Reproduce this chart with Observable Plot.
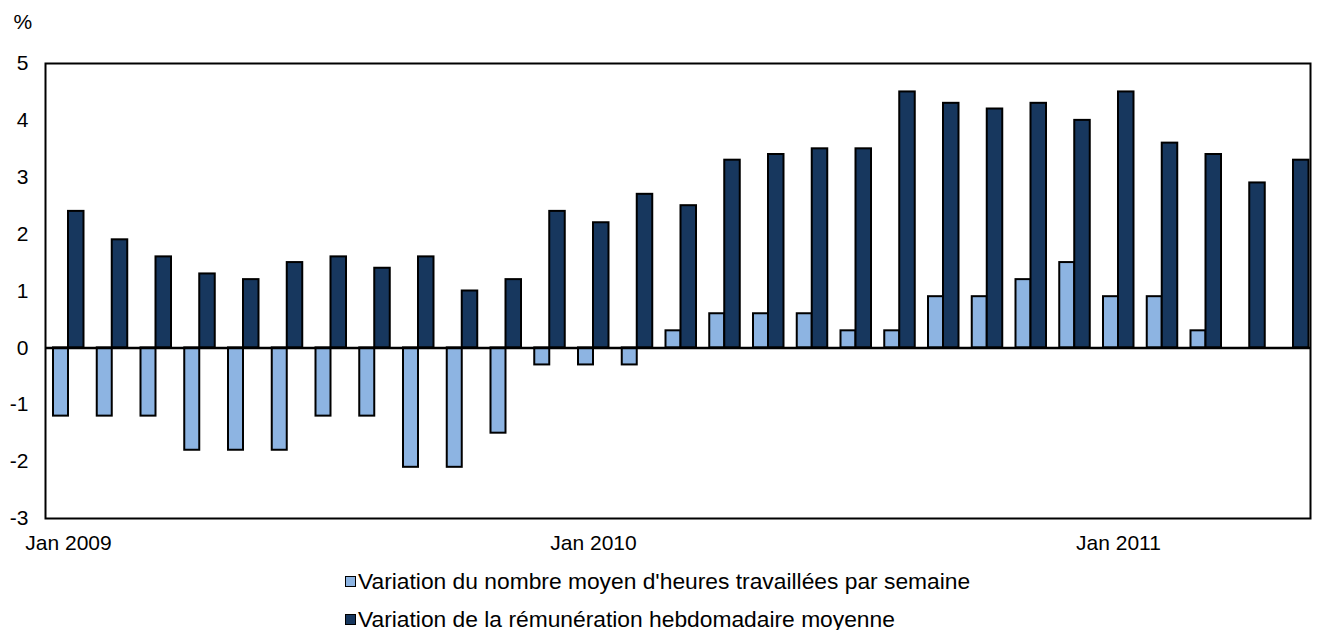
<!DOCTYPE html>
<html>
<head>
<meta charset="utf-8">
<script src="https://cdn.jsdelivr.net/npm/d3@7"></script>
<script src="https://cdn.jsdelivr.net/npm/@observablehq/plot@0.6"></script>
<style>
  html, body { margin: 0; padding: 0; background: #ffffff; }
  body { font-family: "Liberation Sans", Arial, sans-serif; color: #000; width: 1317px; height: 630px; overflow: hidden; }
  #legend { margin-top: 7px; margin-left: 345px; font-size: 22.8px; }
  .row { display: flex; align-items: center; height: 38px; white-space: nowrap; }
  .sw { width: 9px; height: 9px; border: 1.5px solid #000; margin-right: 2px; flex: none; }
</style>
</head>
<body>
<div id="chart"></div>
<div id="legend"></div>
<script>
// ---- Data ----
const months = [
  "2009-01","2009-02","2009-03","2009-04","2009-05","2009-06","2009-07","2009-08","2009-09","2009-10","2009-11","2009-12",
  "2010-01","2010-02","2010-03","2010-04","2010-05","2010-06","2010-07","2010-08","2010-09","2010-10","2010-11","2010-12",
  "2011-01","2011-02","2011-03","2011-04","2011-05"
];
const hoursChange = [
  -1.2, -1.2, -1.2, -1.8, -1.8, -1.8, -1.2, -1.2, -2.1, -2.1, -1.5, -0.3,
  -0.3, -0.3, 0.3, 0.6, 0.6, 0.6, 0.3, 0.3, 0.9, 0.9, 1.2, 1.5,
  0.9, 0.9, 0.3, 0, 0
];
const earningsChange = [
  2.4, 1.9, 1.6, 1.3, 1.2, 1.5, 1.6, 1.4, 1.6, 1.0, 1.2, 2.4,
  2.2, 2.7, 2.5, 3.3, 3.4, 3.5, 3.5, 4.5, 4.3, 4.2, 4.3, 4.0,
  4.5, 3.6, 3.4, 2.9, 3.3
];
const seriesNames = [
  "Variation du nombre moyen d'heures travaillées par semaine",
  "Variation de la rémunération hebdomadaire moyenne"
];
const seriesColors = ["#8DB4E2", "#17375E"];
const yTicks = [-3, -2, -1, 0, 1, 2, 3, 4, 5];
const xTickMonths = ["2009-01", "2010-01", "2011-01"];
const xTickLabels = ["Jan 2009", "Jan 2010", "Jan 2011"];
const yUnit = "%";

// ---- Table built from the arrays ----
const rows = months.map((m, i) => ({month: m, hours: hoursChange[i], earnings: earningsChange[i]}));

const fontFamily = "'Liberation Sans', Arial, sans-serif";

const chart = Plot.plot({
  width: 1317,
  height: 555,
  marginLeft: 45,
  marginRight: 7,
  marginTop: 63,
  marginBottom: 37,
  style: {fontFamily, fontSize: "21px", color: "#000", background: "#fff", overflow: "visible"},
  x: {type: "band", domain: months, range: [46.1, 1314.85], padding: 0, round: false},
  y: {domain: [-3, 5]},
  marks: [
    Plot.barY(rows, {x: "month", y: "hours", fill: seriesColors[0], stroke: "#000", strokeWidth: 2,
      insetLeft: 6.9, insetRight: 21.85}),
    Plot.barY(rows, {x: "month", y: "earnings", fill: seriesColors[1], stroke: "#000", strokeWidth: 2,
      insetLeft: 21.9, insetRight: 6.35}),
    Plot.ruleY([0], {stroke: "#000", strokeWidth: 2.5}),
    Plot.frame({stroke: "#000", strokeWidth: 2}),
    Plot.axisY({ticks: yTicks, tickSize: 0, tickPadding: 17, label: null, tickFormat: d => String(d)}),
    Plot.axisX({ticks: xTickMonths, tickSize: 0, tickPadding: 17, label: null,
      tickFormat: d => xTickLabels[xTickMonths.indexOf(d)]}),
    Plot.text([yUnit], {text: d => d, frameAnchor: "top-left", dx: -32, dy: -49, fill: "#000"})
  ]
});
document.getElementById("chart").appendChild(chart);

// ---- Legend ----
const legend = document.getElementById("legend");
seriesNames.forEach((name, i) => {
  const row = document.createElement("div");
  row.className = "row";
  const sw = document.createElement("span");
  sw.className = "sw";
  sw.style.background = seriesColors[i];
  const t = document.createElement("span");
  t.textContent = name;
  row.appendChild(sw);
  row.appendChild(t);
  legend.appendChild(row);
});
</script>
</body>
</html>
